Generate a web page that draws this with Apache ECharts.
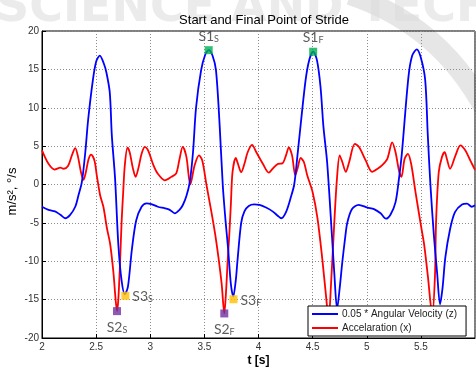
<!DOCTYPE html>
<html>
<head>
<meta charset="utf-8">
<script src="https://cdn.jsdelivr.net/npm/echarts@6/dist/echarts.min.js"></script>
<style>
  html, body { margin: 0; padding: 0; background: #fff; }
  #chart { width: 476px; height: 367px; }
</style>
</head>
<body>
<div id="chart"></div>
<script>
// 0.05 * angular velocity (z)
var blueT = [2.00, 2.06, 2.12, 2.17, 2.215, 2.26, 2.307, 2.337, 2.368, 2.40, 2.426, 2.47, 2.50, 2.534, 2.57, 2.595, 2.626, 2.645, 2.675, 2.705, 2.735, 2.765, 2.794, 2.83, 2.87, 2.92, 2.966, 3.01, 3.07, 3.135, 3.18, 3.227, 3.27, 3.30, 3.334, 3.365, 3.395, 3.423, 3.47, 3.51, 3.54, 3.575, 3.607, 3.64, 3.67, 3.696, 3.72, 3.745, 3.767, 3.79, 3.806, 3.84, 3.87, 3.91, 3.96, 4.01, 4.07, 4.13, 4.18, 4.21, 4.254, 4.30, 4.33, 4.36, 4.38, 4.435, 4.47, 4.505, 4.54, 4.573, 4.60, 4.634, 4.68, 4.70, 4.726, 4.75, 4.775, 4.80, 4.82, 4.864, 4.925, 5.005, 5.067, 5.128, 5.177, 5.22, 5.266, 5.297, 5.324, 5.385, 5.42, 5.462, 5.50, 5.54, 5.564, 5.588, 5.62, 5.65, 5.677, 5.70, 5.726, 5.77, 5.815, 5.88, 5.926, 5.97, 6.00];
var blueV = [-2.9, -3.3, -3.5, -3.95, -4.4, -3.95, -2.9, -1.4, 0.3, 4.2, 8.4, 13.6, 16.0, 16.8, 15.8, 14.6, 12.0, 6.4, 0.8, -7.8, -12.5, -14.3, -13.3, -8.5, -4.7, -2.9, -2.45, -2.55, -2.9, -3.1, -3.3, -3.75, -3.3, -2.7, -1.5, 0.3, 4.2, 10.0, 14.9, 17.0, 17.5, 16.8, 14.9, 8.0, -0.1, -4.8, -8.5, -13.0, -14.6, -12.5, -9.9, -5.0, -3.5, -2.8, -2.6, -2.65, -3.0, -3.5, -4.1, -4.4, -3.6, -1.6, 0.0, 3.8, 6.5, 13.6, 16.3, 17.3, 16.2, 12.7, 7.5, 2.9, -7.0, -11.5, -16.2, -13.5, -10.0, -7.0, -5.0, -3.2, -2.65, -3.0, -3.2, -3.75, -4.45, -3.9, -2.3, 0.7, 4.0, 14.0, 16.8, 17.6, 16.5, 13.6, 6.4, 0.0, -6.6, -11.5, -15.6, -13.5, -9.5, -5.8, -3.6, -2.6, -2.5, -2.9, -2.7];

// acceleration (x)
var redT = [2.00, 2.06, 2.117, 2.17, 2.20, 2.24, 2.276, 2.307, 2.33, 2.36, 2.383, 2.405, 2.43, 2.454, 2.485, 2.506, 2.537, 2.567, 2.60, 2.63, 2.66, 2.68, 2.693, 2.705, 2.72, 2.735, 2.75, 2.765, 2.79, 2.81, 2.84, 2.865, 2.89, 2.92, 2.95, 2.98, 3.03, 3.07, 3.135, 3.196, 3.24, 3.27, 3.30, 3.334, 3.37, 3.41, 3.45, 3.48, 3.52, 3.564, 3.60, 3.63, 3.66, 3.684, 3.70, 3.715, 3.73, 3.745, 3.76, 3.79, 3.81, 3.84, 3.87, 3.90, 3.94, 3.98, 4.04, 4.095, 4.13, 4.18, 4.22, 4.254, 4.28, 4.31, 4.34, 4.36, 4.39, 4.42, 4.45, 4.50, 4.545, 4.59, 4.62, 4.648, 4.67, 4.70, 4.725, 4.75, 4.775, 4.806, 4.837, 4.89, 4.93, 4.99, 5.05, 5.10, 5.14, 5.19, 5.235, 5.266, 5.30, 5.32, 5.35, 5.38, 5.41, 5.45, 5.50, 5.53, 5.565, 5.605, 5.63, 5.64, 5.665, 5.695, 5.72, 5.74, 5.77, 5.82, 5.865, 5.91, 5.956, 6.00];
var redV = [4.45, 2.7, 1.95, 2.2, 2.05, 2.4, 3.8, 4.75, 3.8, 1.6, 0.6, 1.6, 3.3, 3.9, 3.1, 1.2, -1.4, -2.9, -5.7, -7.8, -11.5, -15.0, -16.5, -15.0, -10.5, -5.0, -1.0, 2.5, 4.8, 4.2, 2.1, 1.0, 2.1, 4.0, 4.9, 4.45, 2.5, 1.4, 0.55, 1.0, 1.45, 3.3, 4.9, 3.6, 0.0, 2.5, 3.8, 3.15, -0.1, -3.5, -6.5, -9.5, -13.0, -16.8, -14.0, -10.0, -6.6, -2.5, 1.6, 3.45, 2.7, 1.6, 2.7, 4.2, 5.15, 4.2, 2.7, 1.55, 2.05, 2.7, 2.75, 3.8, 4.85, 3.8, 1.2, 2.05, 3.45, 2.9, 1.2, -1.0, -4.4, -9.8, -14.0, -17.5, -13.0, -5.0, 0.8, 3.8, 2.9, 1.65, 2.9, 5.3, 4.85, 3.15, 1.65, 2.05, 2.5, 3.35, 5.5, 4.2, 1.65, 1.0, 3.35, 4.0, 2.7, -0.95, -5.3, -7.8, -12.0, -17.0, -12.0, -5.0, 1.6, 3.6, 4.2, 3.35, 2.05, 3.8, 5.1, 4.45, 3.15, 1.9];

// stride start / final points
var markT = [3.54, 4.505, 2.693, 3.684, 2.77, 3.769];
var markV = [17.5, 17.3, -16.5, -16.8, -14.5, -14.95];
var markName = ['S1', 'S1', 'S2', 'S2', 'S3', 'S3'];
var markSub = ['S', 'F', 'S', 'F', 'S', 'F'];
var markColor = ['#00b050', '#00b050', '#7030a0', '#7030a0', '#ffc000', '#ffc000'];
var markPos = ['top', 'top', 'bottom', 'bottom', 'right', 'right'];

var seriesNames = ['0.05 * Angular Velocity (z)', 'Accelaration (x)'];

function pairs(t, v) {
  return t.map(function (x, i) { return [x, v[i]] })
}

var marks = markT.map(function (t, i) {
  return {
    value: [t, markV[i]],
    itemStyle: { color: markColor[i] },
    label: {
      position: markPos[i],
      formatter: '{a|' + markName[i] + '}{b|' + markSub[i] + '}'
    }
  }
})

var chart = echarts.init(document.getElementById('chart'))
var grid = { color: '#8c8c8c', type: [1, 2], width: 1 }

var option = {
  animation: false,
  backgroundColor: '#fff',
  textStyle: { fontFamily: 'Liberation Sans' },
  graphic: [{
    // faint publisher watermark behind the plot
    type: 'text', left: -4, top: -14, z: -10, silent: true,
    style: { text: 'SCIENCE AND TECHNOLOGY', fill: '#ebebeb', font: 'bold 46px "DejaVu Sans"' }
  }, {
    type: 'bezierCurve', z: -10, silent: true,
    shape: { x1: 350, y1: -5, cpx1: 440, cpy1: 25, x2: 485, y2: 110 },
    style: { stroke: '#dcdcdc', lineWidth: 20, fill: null, opacity: 0.7 }
  }],
  title: {
    text: 'Start and Final Point of Stride',
    left: 259,
    textAlign: 'center',
    top: 9,
    textStyle: { fontSize: 13, fontWeight: 'normal', color: '#000' }
  },
  legend: {
    data: seriesNames,
    orient: 'vertical',
    left: 308,
    top: 306,
    padding: [3, 9, 3, 4],
    itemGap: 4,
    itemWidth: 26,
    itemHeight: 2,
    icon: 'rect',
    backgroundColor: '#fff',
    borderColor: '#000',
    borderWidth: 1,
    textStyle: { fontSize: 10, color: '#222', padding: [0, 0, 0, -1] }
  },
  grid: {
    left: 42, right: 1, top: 31, bottom: 29,
    outerBoundsMode: 'none',
    show: true, borderColor: '#000', borderWidth: 1
  },
  xAxis: {
    type: 'value',
    min: 2, max: 6, interval: 0.5,
    name: 't [s]',
    nameLocation: 'middle',
    nameGap: 17,
    nameMoveOverlap: false,
    nameTextStyle: { fontSize: 12, fontWeight: 'bold', color: '#000' },
    axisLine: { onZero: false, lineStyle: { color: '#000' } },
    axisTick: { inside: true, length: 4, lineStyle: { color: '#000' } },
    axisLabel: { fontSize: 10, color: '#333', margin: 4, showMaxLabel: false },
    splitLine: { show: true, lineStyle: grid }
  },
  yAxis: {
    type: 'value',
    min: -20, max: 20, interval: 5,
    name: 'm/s², °/s',
    nameLocation: 'middle',
    nameGap: 23,
    nameMoveOverlap: false,
    nameTextStyle: { fontSize: 13, color: '#000', padding: [0, 14, 0, 0] },
    axisLine: { onZero: false, lineStyle: { color: '#000' } },
    axisTick: { inside: true, length: 4, lineStyle: { color: '#000' } },
    axisLabel: { fontSize: 10, color: '#333', margin: 3 },
    splitLine: { show: true, lineStyle: grid }
  },
  series: [{
    name: seriesNames[0],
    type: 'line',
    data: pairs(blueT, blueV),
    smooth: 0.3,
    symbol: 'none',
    lineStyle: { color: '#0000ff', width: 1.8 },
    itemStyle: { color: '#0000ff' },
    z: 3
  }, {
    name: seriesNames[1],
    type: 'line',
    data: pairs(redT, redV),
    smooth: 0.3,
    symbol: 'none',
    lineStyle: { color: '#ff0000', width: 1.8 },
    itemStyle: { color: '#ff0000' },
    z: 2
  }, {
    type: 'scatter',
    data: marks,
    symbol: 'rect',
    symbolSize: 8,
    z: 4,
    label: {
      show: true,
      distance: 3,
      color: '#333',
      rich: {
        a: { fontSize: 14, fontFamily: 'Lato', color: '#333', verticalAlign: 'bottom', lineHeight: 16 },
        b: { fontSize: 9, fontFamily: 'Lato', color: '#333', verticalAlign: 'bottom', lineHeight: 10 }
      }
    }
  }]
}

chart.setOption(option)
</script>
</body>
</html>
